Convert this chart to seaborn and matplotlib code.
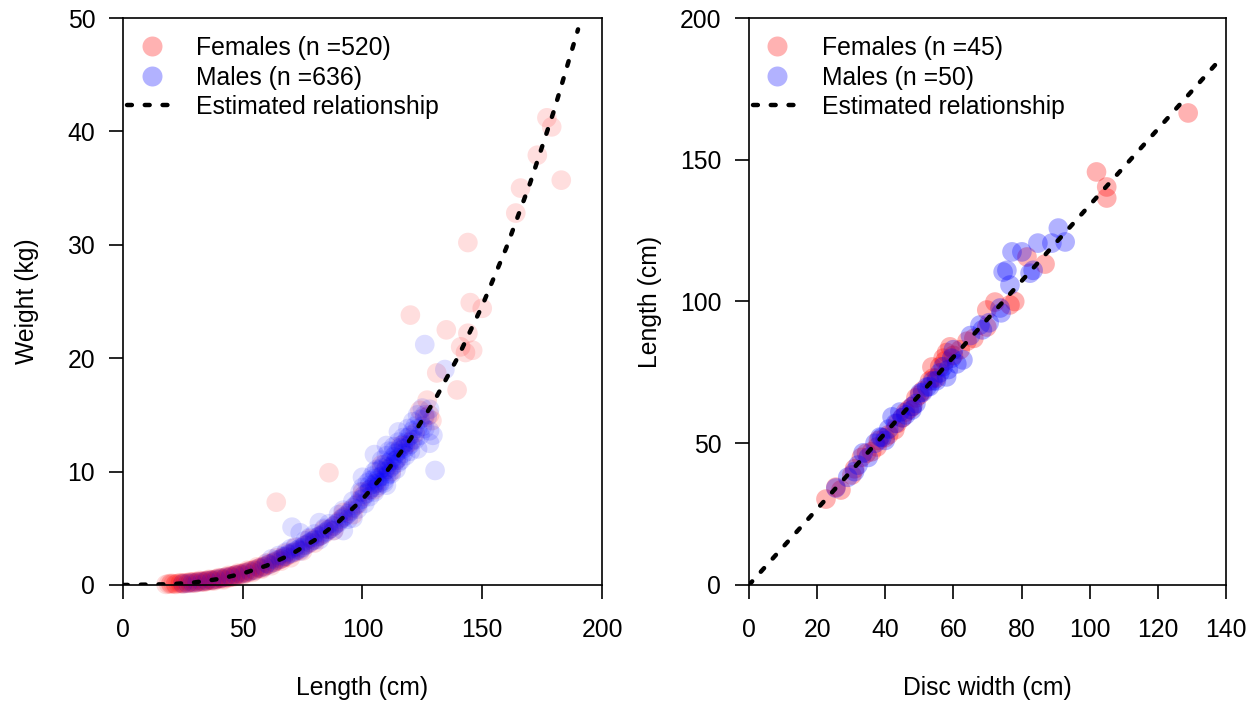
import pandas as pd
import matplotlib.pyplot as plt
import seaborn as sns
from matplotlib.lines import Line2D

# ---- left panel: length-weight ----
fem_len = [18, 19, 20, 21, 22, 23, 24, 25, 25, 26, 27, 28, 28, 29, 30, 30, 31, 32, 32, 33,
           34, 34, 35, 35, 36, 37, 37, 38, 38, 39, 40, 40, 41, 42, 42, 43, 44, 44, 45, 45,
           46, 47, 47, 48, 48, 49, 50, 50, 51, 52, 52, 53, 54, 55, 55, 56, 57, 58, 58, 59,
           60, 61, 62, 63, 64, 65, 66, 67, 68, 70, 72, 74, 76, 78, 80, 82, 84, 86, 88, 90,
           92, 95, 98, 100, 103, 106, 110, 114, 118, 122, 126, 128, 129,
           20, 22, 24, 26, 28, 30, 32, 34, 36, 38, 40, 42, 44, 46, 48, 50, 52, 54, 56, 58,
           60, 62, 64, 66, 68, 70, 72, 75, 78, 80, 84, 88, 92, 96, 100, 105, 108, 112, 116, 120,
           64, 86, 120, 124, 127, 131, 135, 139.5, 141, 143, 144, 144, 145, 146, 150,
           164, 166, 173, 177, 179, 183]
fem_wt = [0.05, 0.1, 0.08, 0.12, 0.1, 0.15, 0.12, 0.18, 0.1, 0.2, 0.17, 0.22, 0.15, 0.25, 0.2, 0.3, 0.27, 0.32, 0.25, 0.3,
          0.38, 0.3, 0.4, 0.33, 0.42, 0.45, 0.38, 0.5, 0.42, 0.52, 0.58, 0.48, 0.6, 0.65, 0.55, 0.7, 0.72, 0.62, 0.8, 0.7,
          0.82, 0.85, 0.9, 0.95, 0.85, 0.98, 1.05, 0.95, 1.1, 1.15, 1.05, 1.25, 1.3, 1.35, 1.25, 1.45, 1.5, 1.6, 1.5, 1.65,
          1.75, 1.85, 1.9, 2.0, 2.1, 2.2, 2.3, 2.4, 2.5, 2.7, 2.9, 3.1, 3.5, 3.7, 4.0, 4.3, 4.5, 4.9, 5.2, 5.6,
          6.0, 6.6, 7.1, 7.8, 8.4, 9.0, 10.2, 11.0, 12.3, 13.4, 14.8, 15.0, 14.5,
          0.15, 0.05, 0.2, 0.12, 0.28, 0.15, 0.4, 0.25, 0.5, 0.35, 0.65, 0.45, 0.85, 0.7, 1.05, 0.85, 1.3, 1.1, 1.6, 1.4,
          1.95, 1.7, 2.4, 2.1, 2.8, 2.4, 3.3, 3.0, 4.1, 3.7, 4.9, 4.8, 6.4, 6.2, 8.2, 8.4, 10.6, 10.0, 12.3, 12.6,
          7.3, 9.9, 23.8, 15.4, 16.3, 18.7, 22.5, 17.2, 21.0, 20.5, 22.2, 30.2, 24.9, 20.7, 24.4,
          32.8, 35.0, 37.9, 41.2, 40.4, 35.7]

male_len = [25, 27, 29, 31, 33, 35, 37, 39, 41, 43, 45, 47, 49, 51, 53, 55, 57, 59, 61, 63,
            64, 66, 67, 68, 69, 70, 71, 72, 73, 74, 75, 76, 77, 78, 79, 80, 81, 82, 83, 84,
            85, 86, 87, 88, 89, 90, 91, 92, 93, 94, 95, 96, 97, 98, 99, 100, 101, 102, 103, 103,
            104, 105, 105, 106, 106, 107, 107, 108, 108, 109, 109, 110, 110, 111, 111, 112, 112, 113, 113, 114,
            114, 115, 115, 116, 117, 117, 118, 119, 120, 120, 121, 122, 123, 124, 125, 126, 128,
            60, 62, 65, 68, 70, 72, 74, 76, 78, 80, 82, 84, 86, 88, 90, 92, 94, 96, 98, 99,
            100, 101, 102, 103, 104, 105, 106, 107, 108, 109, 110, 110, 111, 112, 113, 114, 115, 116, 117, 118,
            119, 120, 121, 122, 123, 124, 125, 126, 127, 128, 103, 105, 107, 109, 111, 113, 115, 117, 119, 121,
            70.6, 74, 82, 126, 134.4, 130.3, 129.4, 128, 92, 96, 105, 110, 115, 100, 123]
male_wt = [0.12, 0.15, 0.2, 0.25, 0.3, 0.38, 0.42, 0.5, 0.6, 0.68, 0.75, 0.88, 0.95, 1.05, 1.2, 1.3, 1.5, 1.6, 1.8, 2.0,
           2.2, 2.3, 2.5, 2.55, 2.7, 2.8, 2.85, 3.0, 3.1, 3.25, 3.3, 3.5, 3.6, 3.75, 3.9, 3.95, 4.2, 4.3, 4.4, 4.6,
           4.7, 4.9, 5.0, 5.2, 5.4, 5.5, 5.8, 5.9, 6.1, 6.3, 6.5, 6.8, 7.0, 7.2, 7.5, 7.6, 8.0, 8.1, 8.4, 8.8,
           8.6, 8.9, 9.4, 9.2, 8.6, 9.5, 10.1, 9.6, 10.3, 10.0, 9.2, 10.4, 9.6, 10.8, 10.2, 11.0, 10.4, 11.3, 10.6, 11.6,
           11.0, 11.8, 11.2, 12.1, 12.4, 11.6, 12.6, 13.0, 13.2, 12.4, 13.6, 14.0, 13.8, 14.6, 14.0, 15.0, 15.5,
           1.9, 2.3, 2.6, 2.9, 3.2, 3.4, 3.0, 3.9, 4.2, 4.5, 4.0, 5.0, 5.4, 4.8, 6.2, 6.6, 5.8, 7.4, 6.7, 8.2,
           8.6, 7.2, 9.0, 7.8, 9.6, 8.2, 10.2, 8.8, 11.0, 9.0, 11.4, 8.8, 11.8, 9.8, 12.2, 10.2, 12.6, 11.0, 13.0, 11.4,
           13.8, 11.8, 14.4, 12.8, 15.0, 13.2, 15.6, 13.8, 14.8, 13.6, 9.2, 10.0, 9.0, 10.6, 9.8, 11.8, 10.8, 12.0, 12.2, 12.8,
           5.1, 4.6, 5.5, 21.2, 19.0, 10.1, 13.2, 12.5, 4.8, 5.9, 11.5, 12.3, 13.5, 9.5, 12.0]

lw_curve_len = [0, 20, 30, 40, 50, 60, 70, 80, 90, 100, 110, 120, 130, 140, 150, 160, 170, 180, 190]
lw_curve_wt = [0, 0.07, 0.23, 0.53, 1.01, 1.71, 2.68, 3.95, 5.57, 7.57, 9.98, 12.86, 16.24,
               20.15, 24.63, 29.71, 35.45, 41.86, 49.0]

# ---- right panel: disc width-length ----
fem_dw = [22.6, 25.5, 27, 30.2, 31, 33, 34.5, 37.6, 38, 40, 42.8, 43.5, 45, 46, 48, 49, 51, 53, 53.7, 55,
          56, 57, 58, 59, 60, 62, 66, 69.8, 69.8, 72.2, 76.6, 81.6, 86.9, 102, 105, 105, 128.9,
          36, 41, 47, 50, 54, 57.5, 64, 78]
fem_tl = [30.3, 34.5, 33.5, 38.8, 41, 45, 46.5, 48.7, 51, 52, 54.7, 57, 59, 61, 63, 66, 68.5, 72, 76.9, 73,
          77, 80, 82, 84, 81, 83, 87, 91, 97, 99.8, 98.8, 115.7, 113.2, 145.7, 140.4, 136.5, 166.5,
          47, 53, 62, 67, 73, 79, 86, 100]

male_dw = [25.5, 29, 32, 33.5, 35, 38.5, 40, 41, 42, 44.3, 47.8, 46, 49, 50.2, 52.2, 53, 55, 56, 58, 58.5,
           59.5, 61, 62.8, 60, 67.8, 68.5, 70.5, 73.7, 74, 74.6, 76.6, 77.2, 80.1, 75.7, 83.4, 82.5, 84.8, 88.9, 90.8, 92.8,
           43, 37, 39, 31, 51, 57, 45, 54, 48, 65]
male_tl = [34.2, 38, 42.3, 46.6, 45, 52.2, 51, 55, 59.3, 61, 61.7, 60, 64, 67.7, 69.8, 70, 72, 74.8, 73.4, 76,
           80, 78, 79.4, 83, 91.7, 90, 92.5, 97.7, 96, 110.4, 105.8, 117.5, 117.5, 111, 111, 110, 120.6, 120.6, 125.9, 121,
           57, 50, 52, 40, 68, 77, 59, 72, 63, 88]

dl_curve_dw = [0, 20, 40, 60, 80, 100, 120, 137.6]
dl_curve_tl = [0, 26.8, 53.6, 80.4, 107.2, 134.0, 160.8, 184.5]

lw_df = pd.DataFrame({
    "Length": fem_len + male_len,
    "Weight": fem_wt + male_wt,
    "Sex": ["F"] * len(fem_len) + ["M"] * len(male_len),
})
dl_df = pd.DataFrame({
    "DW": fem_dw + male_dw,
    "TL": fem_tl + male_tl,
    "Sex": ["F"] * len(fem_dw) + ["M"] * len(male_dw),
})

sns.set_style("ticks")
plt.rcParams["font.family"] = ["Liberation Sans", "DejaVu Sans"]
plt.rcParams["font.size"] = 17.8
plt.rcParams["text.color"] = "black"
plt.rcParams["axes.labelcolor"] = "black"

sex_palette = {"F": "#FF0000", "M": "#0000FF"}
dash = (0, (1.1, 2.9))
FS = 17.8

fig = plt.figure(figsize=(12.56, 7.06), dpi=100)
ax1 = fig.add_axes([0.0979, 0.1714, 0.3814, 0.8031])
ax2 = fig.add_axes([0.5963, 0.1714, 0.3798, 0.8031])

sns.scatterplot(data=lw_df, x="Length", y="Weight", hue="Sex", palette=sex_palette,
                alpha=0.13, s=200, linewidth=0, legend=False, ax=ax1, clip_on=False)
sns.lineplot(x=lw_curve_len, y=lw_curve_wt, color="black", lw=3.2, linestyle=dash,
             dash_capstyle="round", ax=ax1, sort=False, estimator=None)

sns.scatterplot(data=dl_df, x="DW", y="TL", hue="Sex", palette=sex_palette,
                alpha=0.3, s=200, linewidth=0, legend=False, ax=ax2)
sns.lineplot(x=dl_curve_dw, y=dl_curve_tl, color="black", lw=3.2, linestyle=dash,
             dash_capstyle="round", ax=ax2, sort=False, estimator=None)


def style_axis(ax, xlim, ylim, xticks, yticks, xlabel, ylabel, ylab_x, labels):
    ax.set_xlim(*xlim)
    ax.set_ylim(*ylim)
    ax.set_xticks(xticks)
    ax.set_yticks(yticks)
    for sp in ax.spines.values():
        sp.set_visible(True)
        sp.set_linewidth(1.2)
        sp.set_color("black")
    ax.tick_params(axis="both", direction="out", length=10, width=1.2, labelsize=FS,
                   colors="black", labelcolor="black")
    ax.tick_params(axis="x", pad=14)
    ax.tick_params(axis="y", pad=10)
    ax.set_xlabel(xlabel, fontsize=FS, color="black")
    ax.set_ylabel(ylabel, fontsize=FS, color="black")
    ax.xaxis.set_label_coords(0.5, -0.182)
    ax.xaxis.label.set_va("center")
    ax.yaxis.set_label_coords(ylab_x, 0.5)
    ax.yaxis.label.set_va("center")
    handles = [
        Line2D([], [], marker="o", ls="none", markersize=14.4, markerfacecolor="#FF0000",
               markeredgewidth=0, alpha=0.3),
        Line2D([], [], marker="o", ls="none", markersize=14.4, markerfacecolor="#0000FF",
               markeredgewidth=0, alpha=0.3),
        Line2D([], [], color="black", lw=3.2, linestyle=dash, dash_capstyle="round"),
    ]
    leg = ax.legend(handles, labels, loc="upper left", bbox_to_anchor=(0.008, 0.968), frameon=False,
                    borderpad=0, borderaxespad=0, handlelength=2.0, handletextpad=0.8,
                    labelspacing=0.22, fontsize=FS)
    for t in leg.get_texts():
        t.set_color("black")


style_axis(ax1, (0, 200), (0, 50), range(0, 201, 50), range(0, 51, 10),
           "Length (cm)", "Weight (kg)", -0.2,
           ["Females (n =520)", "Males (n =636)", "Estimated relationship"])
style_axis(ax2, (0, 140), (0, 200), range(0, 141, 20), range(0, 201, 50),
           "Disc width (cm)", "Length (cm)", -0.208,
           ["Females (n =45)", "Males (n =50)", "Estimated relationship"])

fig.savefig("out.png", dpi=100)
